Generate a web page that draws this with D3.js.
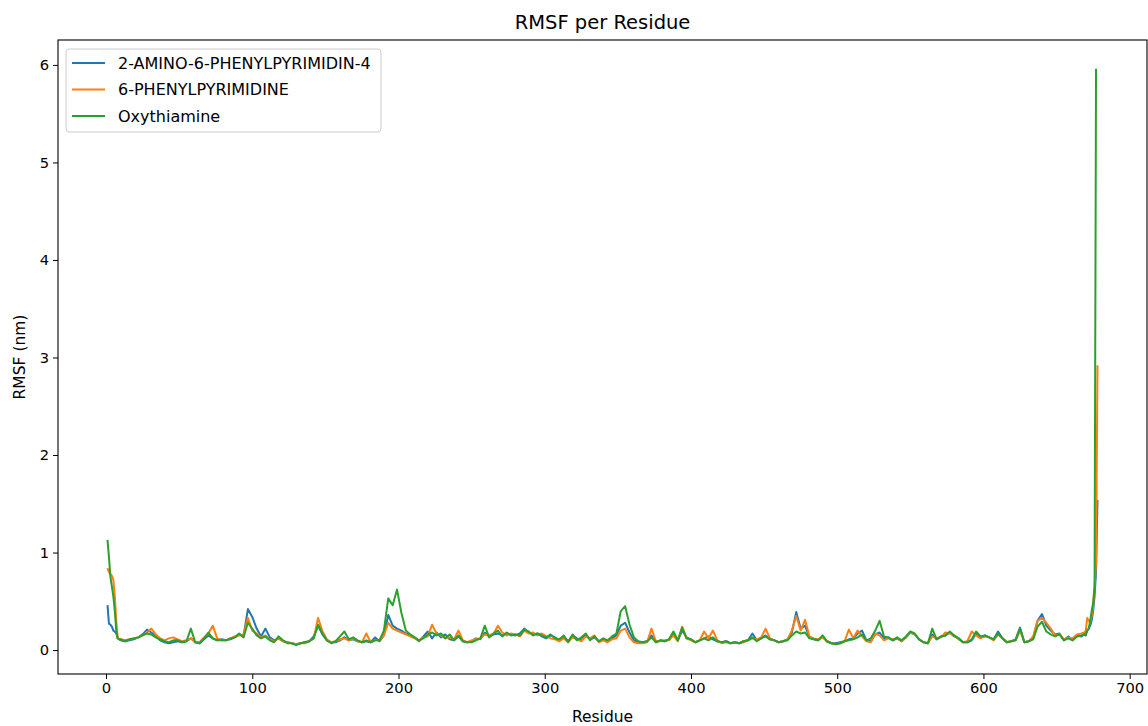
<!DOCTYPE html>
<html>
<head>
<meta charset="utf-8">
<script src="https://cdn.jsdelivr.net/npm/d3@7"></script>
<style>
  body { margin: 0; background: #fff; }
  svg { display: block; font-family: "DejaVu Sans", sans-serif; }
</style>
</head>
<body>
<svg id="chart" width="1148" height="726"></svg>
<script>
// residue positions (every residue at both ends, every 3rd in between)
const residues = [1, 2, 3, 4, 5, 6, 7, 8]
    .concat(d3.range(10, 668, 3), [669, 670, 671, 672, 673, 674, 675, 676, 677, 678]);

const seriesNames = ['2-AMINO-6-PHENYLPYRIMIDIN-4', '6-PHENYLPYRIMIDINE', 'Oxythiamine'];
const seriesColors = ['#1f77b4', '#ff7f0e', '#2ca02c'];

const rmsfAmino = [
    0.46, 0.27, 0.26, 0.24, 0.20, 0.19, 0.17, 0.12,
    0.10, 0.09, 0.10, 0.11, 0.13, 0.16, 0.21, 0.18, 0.14, 0.10,
    0.08, 0.07, 0.08, 0.09, 0.08, 0.09, 0.12, 0.08, 0.07, 0.11,
    0.15, 0.12, 0.10, 0.11, 0.10, 0.11, 0.13, 0.16, 0.14, 0.42,
    0.34, 0.22, 0.14, 0.22, 0.13, 0.10, 0.12, 0.09, 0.08, 0.07,
    0.06, 0.07, 0.08, 0.09, 0.14, 0.25, 0.16, 0.10, 0.08, 0.08,
    0.10, 0.13, 0.10, 0.11, 0.09, 0.08, 0.09, 0.08, 0.13, 0.09,
    0.15, 0.36, 0.25, 0.22, 0.20, 0.17, 0.15, 0.13, 0.09, 0.14,
    0.19, 0.12, 0.18, 0.13, 0.16, 0.11, 0.10, 0.14, 0.09, 0.08,
    0.09, 0.12, 0.11, 0.18, 0.14, 0.16, 0.17, 0.15, 0.17, 0.16,
    0.15, 0.17, 0.22, 0.18, 0.16, 0.17, 0.14, 0.12, 0.15, 0.13,
    0.10, 0.14, 0.09, 0.15, 0.12, 0.10, 0.16, 0.11, 0.13, 0.09,
    0.11, 0.09, 0.12, 0.15, 0.25, 0.28, 0.18, 0.10, 0.08, 0.08,
    0.09, 0.15, 0.08, 0.10, 0.09, 0.11, 0.17, 0.10, 0.20, 0.13,
    0.11, 0.08, 0.10, 0.12, 0.14, 0.11, 0.09, 0.08, 0.09, 0.07,
    0.08, 0.07, 0.09, 0.10, 0.17, 0.10, 0.12, 0.15, 0.11, 0.10,
    0.08, 0.09, 0.11, 0.18, 0.39, 0.22, 0.25, 0.13, 0.11, 0.10,
    0.14, 0.09, 0.07, 0.07, 0.08, 0.09, 0.11, 0.12, 0.17, 0.20,
    0.10, 0.09, 0.16, 0.18, 0.12, 0.13, 0.10, 0.12, 0.09, 0.13,
    0.18, 0.16, 0.11, 0.08, 0.07, 0.16, 0.11, 0.14, 0.15, 0.18,
    0.14, 0.12, 0.08, 0.08, 0.10, 0.17, 0.13, 0.15, 0.13, 0.11,
    0.19, 0.12, 0.08, 0.09, 0.11, 0.23, 0.08, 0.09, 0.12, 0.30,
    0.37, 0.25, 0.20, 0.16, 0.17, 0.10, 0.14, 0.10, 0.15, 0.14,
    0.16, 0.15, 0.20, 0.22, 0.25, 0.30, 0.40, 0.55, 0.80, 1.54
];

const rmsfPhenyl = [
    0.84, 0.80, 0.78, 0.76, 0.72, 0.55, 0.30, 0.12,
    0.11, 0.10, 0.11, 0.12, 0.13, 0.15, 0.18, 0.22, 0.16, 0.12,
    0.10, 0.12, 0.13, 0.11, 0.09, 0.10, 0.12, 0.08, 0.08, 0.13,
    0.17, 0.25, 0.12, 0.10, 0.10, 0.12, 0.14, 0.15, 0.16, 0.33,
    0.20, 0.17, 0.13, 0.15, 0.11, 0.09, 0.12, 0.09, 0.08, 0.07,
    0.06, 0.07, 0.07, 0.09, 0.12, 0.33, 0.19, 0.11, 0.08, 0.09,
    0.11, 0.12, 0.10, 0.12, 0.09, 0.08, 0.17, 0.08, 0.10, 0.10,
    0.15, 0.28, 0.22, 0.20, 0.18, 0.16, 0.14, 0.12, 0.10, 0.13,
    0.14, 0.26, 0.17, 0.15, 0.12, 0.13, 0.11, 0.20, 0.10, 0.08,
    0.10, 0.11, 0.12, 0.16, 0.15, 0.17, 0.25, 0.18, 0.15, 0.17,
    0.16, 0.14, 0.20, 0.17, 0.18, 0.15, 0.17, 0.14, 0.12, 0.11,
    0.09, 0.12, 0.08, 0.13, 0.11, 0.09, 0.14, 0.12, 0.15, 0.08,
    0.10, 0.08, 0.11, 0.12, 0.20, 0.22, 0.13, 0.08, 0.07, 0.07,
    0.08, 0.22, 0.09, 0.09, 0.10, 0.10, 0.15, 0.09, 0.24, 0.12,
    0.10, 0.08, 0.10, 0.19, 0.12, 0.20, 0.10, 0.07, 0.08, 0.07,
    0.08, 0.07, 0.08, 0.10, 0.12, 0.11, 0.13, 0.22, 0.12, 0.10,
    0.08, 0.09, 0.11, 0.20, 0.35, 0.20, 0.31, 0.14, 0.12, 0.11,
    0.13, 0.09, 0.07, 0.06, 0.07, 0.09, 0.21, 0.12, 0.20, 0.14,
    0.09, 0.08, 0.17, 0.15, 0.10, 0.12, 0.11, 0.12, 0.09, 0.13,
    0.18, 0.16, 0.11, 0.08, 0.07, 0.14, 0.12, 0.13, 0.18, 0.17,
    0.15, 0.11, 0.08, 0.09, 0.19, 0.15, 0.12, 0.14, 0.13, 0.10,
    0.16, 0.12, 0.08, 0.09, 0.10, 0.20, 0.08, 0.09, 0.14, 0.30,
    0.33, 0.28, 0.22, 0.15, 0.16, 0.11, 0.13, 0.12, 0.16, 0.17,
    0.18, 0.20, 0.33, 0.30, 0.28, 0.35, 0.45, 0.65, 0.90, 2.92
];

// last residue (678) is missing for this one
const rmsfOxy = [
    1.13, 0.95, 0.75, 0.65, 0.55, 0.40, 0.20, 0.12,
    0.11, 0.09, 0.11, 0.12, 0.13, 0.15, 0.17, 0.16, 0.13, 0.11,
    0.09, 0.08, 0.10, 0.10, 0.08, 0.09, 0.22, 0.08, 0.07, 0.12,
    0.18, 0.12, 0.10, 0.10, 0.10, 0.12, 0.13, 0.17, 0.13, 0.28,
    0.22, 0.15, 0.12, 0.14, 0.10, 0.08, 0.14, 0.10, 0.07, 0.07,
    0.05, 0.07, 0.08, 0.09, 0.12, 0.26, 0.17, 0.10, 0.07, 0.09,
    0.14, 0.19, 0.11, 0.13, 0.10, 0.08, 0.10, 0.08, 0.10, 0.10,
    0.20, 0.53, 0.46, 0.62, 0.38, 0.20, 0.16, 0.13, 0.10, 0.12,
    0.16, 0.18, 0.15, 0.17, 0.12, 0.16, 0.10, 0.15, 0.09, 0.08,
    0.08, 0.10, 0.12, 0.25, 0.13, 0.17, 0.20, 0.14, 0.18, 0.15,
    0.16, 0.15, 0.21, 0.19, 0.15, 0.17, 0.15, 0.13, 0.16, 0.12,
    0.11, 0.15, 0.08, 0.16, 0.10, 0.13, 0.17, 0.10, 0.14, 0.09,
    0.12, 0.10, 0.14, 0.17, 0.40, 0.45, 0.26, 0.13, 0.09, 0.08,
    0.09, 0.13, 0.08, 0.10, 0.09, 0.11, 0.19, 0.10, 0.23, 0.12,
    0.11, 0.08, 0.10, 0.12, 0.10, 0.13, 0.09, 0.08, 0.09, 0.07,
    0.08, 0.07, 0.09, 0.10, 0.13, 0.09, 0.12, 0.14, 0.11, 0.10,
    0.08, 0.09, 0.10, 0.15, 0.19, 0.17, 0.18, 0.12, 0.11, 0.10,
    0.15, 0.09, 0.07, 0.06, 0.07, 0.09, 0.10, 0.11, 0.13, 0.16,
    0.10, 0.12, 0.20, 0.30, 0.14, 0.13, 0.10, 0.13, 0.10, 0.14,
    0.19, 0.17, 0.11, 0.08, 0.07, 0.22, 0.11, 0.14, 0.15, 0.19,
    0.15, 0.12, 0.08, 0.08, 0.11, 0.19, 0.14, 0.15, 0.13, 0.11,
    0.17, 0.12, 0.08, 0.09, 0.10, 0.22, 0.08, 0.09, 0.11, 0.24,
    0.29, 0.19, 0.16, 0.14, 0.16, 0.10, 0.12, 0.10, 0.14, 0.15,
    0.16, 0.17, 0.20, 0.22, 0.30, 0.40, 0.48, 0.65, 5.96
];

const xTicks = [0, 100, 200, 300, 400, 500, 600, 700];
const yTicks = [0, 1, 2, 3, 4, 5, 6];

const svg = d3.select('#chart');
const margin = { top: 40, right: 1, bottom: 52, left: 58 };
const width = 1148 - margin.left - margin.right;
const height = 726 - margin.top - margin.bottom;

const allSeries = [rmsfAmino, rmsfPhenyl, rmsfOxy];

// matplotlib-like 5% padding on both axes
const xMin = d3.min(residues), xMax = d3.max(residues);
const yMin = d3.min(allSeries, s => d3.min(s)), yMax = d3.max(allSeries, s => d3.max(s));
const xPad = (xMax - xMin) * 0.05, yPad = (yMax - yMin) * 0.05;

const x = d3.scaleLinear().domain([xMin - xPad, xMax + xPad]).range([0, width]);
const y = d3.scaleLinear().domain([yMin - yPad, yMax + yPad]).range([height, 0]);

const g = svg.append('g').attr('transform', `translate(${margin.left},${margin.top})`);

const line = d3.line()
    .x(d => x(d[0]))
    .y(d => y(d[1]));

allSeries.forEach((vals, i) => {
    const pts = vals.map((v, j) => [residues[j], v]);
    g.append('path')
        .datum(pts)
        .attr('fill', 'none')
        .attr('stroke', seriesColors[i])
        .attr('stroke-width', 2)
        .attr('stroke-linejoin', 'round')
        .attr('d', line);
});

// axes
const xAxis = g.append('g')
    .attr('transform', `translate(0,${height})`)
    .call(d3.axisBottom(x).tickValues(xTicks).tickSize(5).tickPadding(4).tickFormat(d3.format('d')));
const yAxis = g.append('g')
    .call(d3.axisLeft(y).tickValues(yTicks).tickSize(5).tickPadding(4).tickFormat(d3.format('d')));

[xAxis, yAxis].forEach(a => {
    a.select('.domain').remove();
    a.selectAll('line').attr('stroke', '#000').attr('stroke-width', 1);
    a.selectAll('text').attr('fill', '#000').style('font-size', '14.7px').style('font-family', 'DejaVu Sans, sans-serif');
});

// frame
g.append('rect')
    .attr('x', 0).attr('y', 0)
    .attr('width', width).attr('height', height)
    .attr('fill', 'none')
    .attr('stroke', '#000')
    .attr('stroke-width', 1.1);

// title and labels
svg.append('text')
    .attr('x', margin.left + width / 2)
    .attr('y', 29)
    .attr('text-anchor', 'middle')
    .style('font-size', '19.5px')
    .text('RMSF per Residue');

svg.append('text')
    .attr('x', margin.left + width / 2)
    .attr('y', 722)
    .attr('text-anchor', 'middle')
    .style('font-size', '15.5px')
    .text('Residue');

svg.append('text')
    .attr('transform', `translate(25,${margin.top + height / 2}) rotate(-90)`)
    .attr('text-anchor', 'middle')
    .style('font-size', '15.5px')
    .text('RMSF (nm)');

// legend
const legend = g.append('g').attr('transform', 'translate(8,9)');
legend.append('rect')
    .attr('width', 315).attr('height', 83)
    .attr('rx', 3)
    .attr('fill', '#fff')
    .attr('fill-opacity', 0.8)
    .attr('stroke', '#ccc')
    .attr('stroke-width', 1);

seriesNames.forEach((name, i) => {
    const row = legend.append('g').attr('transform', `translate(6,${14 + i * 26.5})`);
    row.append('line')
        .attr('x1', 0).attr('x2', 33)
        .attr('stroke', seriesColors[i])
        .attr('stroke-width', 2);
    row.append('text')
        .attr('x', 46)
        .attr('y', 5.5)
        .style('font-size', '16px')
        .text(name);
});
</script>
</body>
</html>
